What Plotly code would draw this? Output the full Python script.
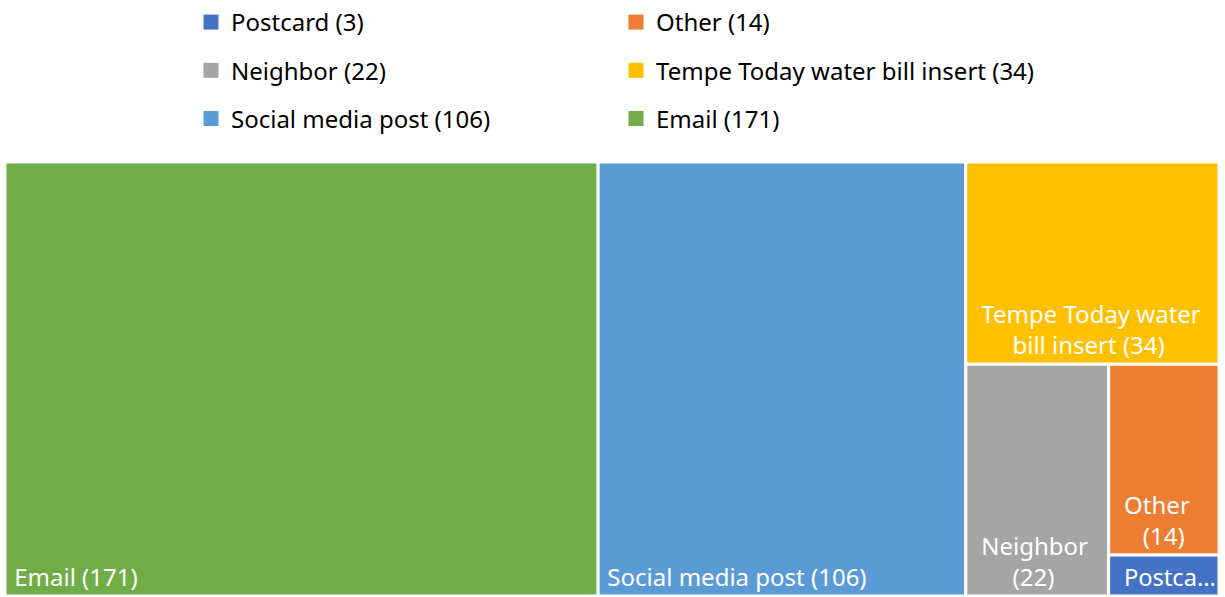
import plotly.graph_objects as go

categories = ["Email", "Social media post", "Tempe Today water bill insert", "Neighbor", "Other", "Postcard"]
values = [171, 106, 34, 22, 14, 3]
colors = ["#70AD47", "#5B9BD5", "#FFC000", "#A5A5A5", "#ED7D31", "#4472C4"]
NB = "\u00a0"
tile_text = [
    NB + "Email (171)",
    NB + "Social media post (106)",
    NB + NB + "Tempe Today water<br>" + NB * 7 + "bill insert (34)",
    NB + NB + "Neighbor<br>" + NB * 7 + "(22)",
    NB + NB + "Other<br>" + NB * 5 + "(14)",
    NB + NB + "Postca...",
]
legend_order_left = ["Postcard", "Neighbor", "Social media post"]
legend_order_right = ["Other", "Tempe Today water bill insert", "Email"]

FONT = "Noto Sans"
W, H = 1225, 597

fig = go.Figure()
fig.add_trace(go.Treemap(
    labels=categories,
    parents=[""] * len(categories),
    values=values,
    text=tile_text,
    texttemplate="%{text}",
    textposition="bottom left",
    textfont=dict(family=FONT, size=24, color="white"),
    marker=dict(colors=colors, line=dict(color="white", width=3), pad=dict(t=0, l=0, r=0, b=0)),
    tiling=dict(packing="squarify", squarifyratio=1, pad=0),
    pathbar=dict(visible=False),
    sort=True,
    hoverinfo="skip",
    domain=dict(x=[5 / W, 1219 / W], y=[1 / H, 1 - 162 / H]),
))

val = dict(zip(categories, values))
col = dict(zip(categories, colors))
for i, name in enumerate(legend_order_left):
    fig.add_trace(go.Scatter(x=[None], y=[None], mode="markers",
                             marker=dict(symbol="square", size=15, color=col[name]),
                             name=f"{name} ({val[name]})", legend="legend", legendgroup=f"L{i}",
                             hoverinfo="skip"))
for i, name in enumerate(legend_order_right):
    fig.add_trace(go.Scatter(x=[None], y=[None], mode="markers",
                             marker=dict(symbol="square", size=15, color=col[name]),
                             name=f"{name} ({val[name]})", legend="legend2", legendgroup=f"R{i}",
                             hoverinfo="skip"))

legend_common = dict(font=dict(family=FONT, size=24, color="#000000"),
                     bgcolor="rgba(0,0,0,0)", tracegroupgap=14,
                     yanchor="top", y=1.0, xanchor="left", orientation="v")
fig.update_layout(
    width=W, height=H,
    margin=dict(l=0, r=0, t=0, b=0),
    paper_bgcolor="white", plot_bgcolor="white",
    xaxis=dict(visible=False), yaxis=dict(visible=False),
    showlegend=True,
    legend=dict(**legend_common, x=191 / W),
    legend2=dict(**legend_common, x=616 / W),
)
fig.write_html("out.html",
               config={"displayModeBar": False},
               post_script="document.body.style.margin='0';document.body.style.overflow='hidden';")
